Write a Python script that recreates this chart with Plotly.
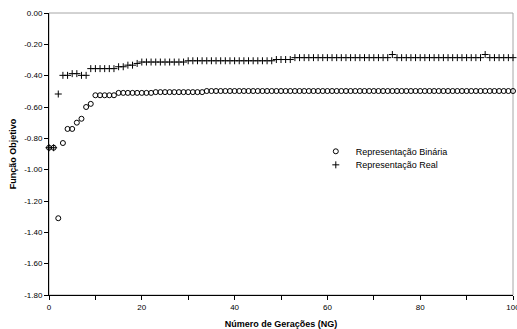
import plotly.graph_objects as go

generations = list(range(0, 101))

binaria = [
    -0.86, -0.86, -1.31, -0.83, -0.74, -0.74, -0.70, -0.675, -0.60, -0.58,
    -0.525, -0.525, -0.525, -0.525, -0.525, -0.51, -0.51, -0.51, -0.51, -0.51,
    -0.51, -0.51, -0.51, -0.505, -0.505, -0.505, -0.505, -0.505, -0.505, -0.505,
    -0.505, -0.505, -0.505, -0.505, -0.498, -0.498, -0.498, -0.498, -0.498, -0.498,
    -0.498, -0.498, -0.498, -0.498, -0.498, -0.498, -0.498, -0.498, -0.498, -0.498,
    -0.498, -0.498, -0.498, -0.498, -0.498, -0.498, -0.498, -0.498, -0.498, -0.498,
    -0.498, -0.498, -0.498, -0.498, -0.498, -0.498, -0.498, -0.498, -0.498, -0.498,
    -0.498, -0.498, -0.498, -0.498, -0.498, -0.498, -0.498, -0.498, -0.498, -0.498,
    -0.498, -0.498, -0.498, -0.498, -0.498, -0.498, -0.498, -0.498, -0.498, -0.498,
    -0.498, -0.498, -0.498, -0.498, -0.498, -0.498, -0.498, -0.498, -0.498, -0.498,
    -0.498,
]

real = [
    -0.86, -0.86, -0.517, -0.398, -0.398, -0.387, -0.387, -0.398, -0.398, -0.355,
    -0.355, -0.355, -0.355, -0.355, -0.355, -0.343, -0.343, -0.333, -0.333, -0.322,
    -0.313, -0.313, -0.313, -0.313, -0.313, -0.313, -0.313, -0.313, -0.313, -0.313,
    -0.305, -0.305, -0.305, -0.305, -0.305, -0.305, -0.305, -0.305, -0.305, -0.305,
    -0.305, -0.305, -0.305, -0.305, -0.305, -0.305, -0.305, -0.305, -0.305, -0.297,
    -0.297, -0.297, -0.297, -0.285, -0.285, -0.285, -0.285, -0.285, -0.285, -0.285,
    -0.285, -0.285, -0.285, -0.285, -0.285, -0.285, -0.285, -0.285, -0.285, -0.285,
    -0.285, -0.285, -0.285, -0.285, -0.265, -0.285, -0.285, -0.285, -0.285, -0.285,
    -0.285, -0.285, -0.285, -0.285, -0.285, -0.285, -0.285, -0.285, -0.285, -0.285,
    -0.285, -0.285, -0.285, -0.285, -0.265, -0.285, -0.285, -0.285, -0.285, -0.285,
    -0.285,
]

y_tickvals = [0.0, -0.2, -0.4, -0.6, -0.8, -1.0, -1.2, -1.4, -1.6, -1.8]
y_ticktext = ["0.00", "-0.20", "-0.40", "-0.60", "-0.80", "-1.00", "-1.20", "-1.40", "-1.60", "-1.80"]
x_tickvals = [0, 10, 20, 30, 40, 50, 60, 70, 80, 90, 100]
x_ticktext = ["0", "", "20", "", "40", "", "60", "", "80", "", "100"]

FONT = "Liberation Sans, Arial, sans-serif"

fig = go.Figure()
fig.add_trace(go.Scatter(
    x=generations, y=binaria, mode="markers", name="Representação Binária",
    marker=dict(symbol="circle-open", size=5, color="black", line=dict(width=1, color="black")),
    cliponaxis=False, legend="legend",
))
fig.add_trace(go.Scatter(
    x=generations, y=real, mode="markers", name="Representação Real",
    marker=dict(symbol="cross-thin-open", size=5, color="black", line=dict(width=1, color="black")),
    cliponaxis=False, legend="legend2",
))

fig.add_shape(type="rect", xref="paper", yref="paper", x0=0, x1=1, y0=0, y1=1,
              line=dict(color="#a6a6a6", width=1), layer="below")

leg_common = dict(xanchor="left", yanchor="top",
                  font=dict(family=FONT, size=9, color="black"),
                  bgcolor="rgba(0,0,0,0)", itemwidth=30)

fig.update_layout(
    width=517, height=329,
    margin=dict(l=49, r=4, t=13, b=34),
    paper_bgcolor="white", plot_bgcolor="white",
    font=dict(family=FONT, size=8, color="black"),
    showlegend=True,
    legend=dict(x=0.575, y=0.561, **leg_common),
    legend2=dict(x=0.575, y=0.513, **leg_common),
    xaxis=dict(
        range=[0, 100], showgrid=False, zeroline=False,
        showline=True, linecolor="black", linewidth=1,
        ticks="outside", ticklen=4, tickcolor="black",
        tickvals=x_tickvals, ticktext=x_ticktext,
        ticklabeloverflow="allow",
        tickfont=dict(family=FONT, size=8, color="black"),
        title=dict(text="<b>Número de Gerações (NG)</b>", standoff=10,
                   font=dict(family=FONT, size=9, color="black")),
        automargin=False,
    ),
    yaxis=dict(
        range=[-1.8, 0], showgrid=False, zeroline=False,
        showline=True, linecolor="black", linewidth=1,
        ticks="outside", ticklen=4, tickcolor="black",
        tickvals=y_tickvals, ticktext=y_ticktext,
        tickfont=dict(family=FONT, size=8, color="black"),
        title=dict(text="<b>Função Objetivo</b>", standoff=6,
                   font=dict(family=FONT, size=9, color="black")),
        automargin=False,
    ),
)

fig.write_html("out.html", config={"displayModeBar": False},
               post_script="document.body.style.margin='0px';document.body.style.overflow='hidden';")
